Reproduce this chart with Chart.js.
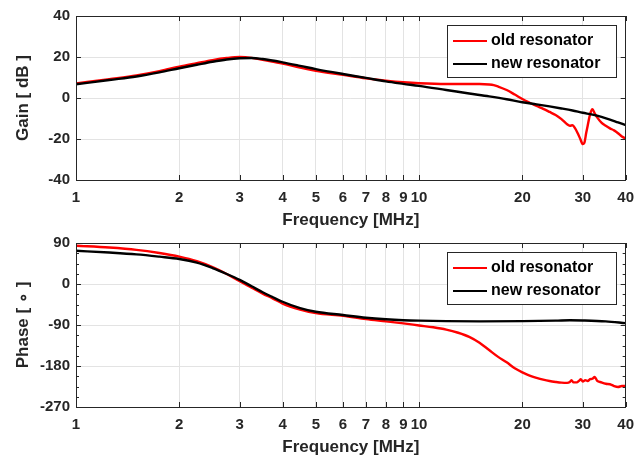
<!DOCTYPE html>
<html>
<head>
<meta charset="utf-8">
<script src="https://cdn.jsdelivr.net/npm/chart.js@4"></script>
<style>
  body { margin: 0; background: #fff; }
  #wrap { position: relative; width: 643px; height: 458px; }
  canvas { position: absolute; left: 0; }
</style>
</head>
<body>
<div id="wrap">
  <canvas id="gain" width="643" height="229" style="top:0"></canvas>
  <canvas id="phase" width="643" height="231" style="top:227px"></canvas>
</div>
<script>
// frequency ticks (MHz), log axis
const xTicks = [1, 2, 3, 4, 5, 6, 7, 8, 9, 10, 20, 30, 40];
const gainTicks = [-40, -20, 0, 20, 40];
const phaseTicks = [-270, -180, -90, 0, 90];

const seriesNames = ['old resonator', 'new resonator'];
const seriesColors = ['#ff0000', '#000000'];

// gain [dB]
const freqGainOld = [1, 1.25, 1.5, 1.75, 2, 2.25, 2.5, 2.75, 3, 3.25, 3.5, 4, 4.5, 5, 6, 7, 8, 9, 10, 12, 14, 15, 16, 16.5, 17, 18, 19, 20, 21, 22, 23, 24, 25, 26, 27, 27.5, 28, 28.5, 29, 29.5, 30, 30.3, 30.7, 31, 31.5, 32, 32.5, 33, 34, 35, 36, 37, 38, 39, 40];
const gainOld = [7.1, 9.2, 11.0, 13.1, 15.3, 17.0, 18.5, 19.5, 20.0, 19.6, 18.6, 16.8, 14.8, 13.3, 11.3, 9.6, 8.5, 7.7, 7.2, 6.8, 6.8, 6.8, 6.6, 6.3, 5.6, 3.9, 1.7, -0.5, -2.3, -3.9, -5.3, -6.8, -8.3, -10.3, -12.8, -13.5, -13.3, -14.8, -17.2, -20.0, -22.5, -22.0, -17.0, -13.5, -8.0, -5.5, -7.5, -9.3, -12.0, -13.5, -14.8, -15.8, -17.2, -18.8, -19.8];

const freqGainNew = [1, 1.25, 1.5, 1.75, 2, 2.25, 2.5, 2.75, 3, 3.25, 3.5, 4, 4.5, 5, 6, 7, 8, 9, 10, 12, 14, 16, 18, 20, 22, 24, 26, 28, 30, 32, 34, 36, 38, 40];
const gainNew = [6.7, 8.8, 10.5, 12.5, 14.5, 16.2, 17.7, 18.8, 19.4, 19.5, 19.0, 17.4, 15.7, 14.1, 11.7, 9.8, 8.1, 6.9, 5.9, 3.9, 2.2, 0.8, -0.6, -2.1, -3.1, -4.1, -5.1, -6.1, -7.2, -8.1, -9.2, -10.5, -11.9, -13.2];

// phase [deg]
const freqPhaseOld = [1, 1.25, 1.5, 1.75, 2, 2.25, 2.5, 2.75, 3, 3.25, 3.5, 3.75, 4, 4.5, 5, 6, 7, 8, 9, 10, 11, 12, 13, 14, 15, 16, 17, 18, 19, 20, 21, 22, 23, 24, 25, 26, 27, 27.5, 27.8, 28.2, 28.8, 29.3, 29.6, 30, 30.5, 31, 31.5, 32, 32.5, 33, 34, 35, 36, 37, 38, 39, 40];
const phaseOld = [84, 80, 75, 68, 60, 50, 37, 22, 6, -8, -21, -32, -43, -56, -64, -70, -77, -82, -86.5, -91, -95, -100, -107, -116, -129, -145, -160, -172, -185, -194, -201, -206, -210, -213, -215, -216.5, -217, -215, -211, -216, -216, -212, -209, -214, -211, -213, -209, -208, -204, -212, -216, -219, -220, -224, -226, -224, -224];

const freqPhaseNew = [1, 1.25, 1.5, 1.75, 2, 2.25, 2.5, 2.75, 3, 3.25, 3.5, 3.75, 4, 4.5, 5, 6, 7, 8, 9, 10, 12, 15, 20, 25, 27.5, 30, 35, 40];
const phaseNew = [73, 69, 65, 60, 55, 47, 35, 22, 9, -5, -18, -29, -39, -53, -61, -68, -74, -77.5, -79.5, -80.5, -81.5, -82, -81.5, -80.5, -79.5, -80, -82, -86];

const FONT = "'Liberation Sans', Arial, Helvetica, sans-serif";
const INK = '#262626';
const GRID = '#e3e3e3';

const pts = (xs, ys) => xs.map((x, i) => ({x: x, y: ys[i]}));

// MATLAB style box, inward ticks and legend
const matlabBox = {
  id: 'matlabBox',
  afterDatasetsDraw(chart, args, opts) {
    const {ctx, chartArea: a, scales: {x, y}} = chart;
    ctx.save();
    ctx.strokeStyle = INK;
    ctx.lineWidth = 1;
    ctx.beginPath();
    xTicks.forEach(v => {
      const px = Math.round(x.getPixelForValue(v)) + 0.5;
      ctx.moveTo(px, a.bottom); ctx.lineTo(px, a.bottom - 5);
      ctx.moveTo(px, a.top); ctx.lineTo(px, a.top + 5);
    });
    opts.yTicks.forEach(v => {
      const py = Math.round(y.getPixelForValue(v)) + 0.5;
      ctx.moveTo(a.left, py); ctx.lineTo(a.left + 5, py);
      ctx.moveTo(a.right, py); ctx.lineTo(a.right - 5, py);
    });
    (opts.minor || []).forEach(v => {
      const py = Math.round(y.getPixelForValue(v)) + 0.5;
      ctx.moveTo(a.left, py); ctx.lineTo(a.left + 3, py);
      ctx.moveTo(a.right, py); ctx.lineTo(a.right - 3, py);
    });
    ctx.stroke();
    ctx.strokeRect(Math.round(a.left) + 0.5, Math.round(a.top) + 0.5, Math.round(a.width) - 1, Math.round(a.height));

    // legend
    const bx = 447.5, by = 25.5, bw = 169, bh = 52;
    ctx.fillStyle = '#fff';
    ctx.fillRect(bx, by, bw, bh);
    ctx.strokeRect(bx, by, bw, bh);
    ctx.font = 'bold 16px ' + FONT;
    ctx.textBaseline = 'middle';
    seriesNames.forEach((name, i) => {
      const ly = 41 + i * 23;
      ctx.strokeStyle = seriesColors[i];
      ctx.lineWidth = 2;
      ctx.beginPath();
      ctx.moveTo(453, ly); ctx.lineTo(487, ly);
      ctx.stroke();
      ctx.fillStyle = '#000';
      ctx.fillText(name, 491, ly);
    });
    ctx.restore();
  }
};

// only the labelled ticks get a grid line
const gridFor = list => c => (c.tick && list.includes(c.tick.value)) ? GRID : 'rgba(0,0,0,0)';

const makeChart = (id, oldData, newData, yMin, yMax, yTicks, yTitle, minor, padBottom) => {
  return new Chart(document.getElementById(id), {
    type: 'line',
    data: {
      datasets: [
        {label: seriesNames[0], data: oldData, borderColor: seriesColors[0], order: 1},
        {label: seriesNames[1], data: newData, borderColor: seriesColors[1], order: 0},
      ]
    },
    options: {
      responsive: false,
      animation: false,
      events: [],
      layout: {padding: {left: 0, right: 17, top: 16, bottom: padBottom}},
      elements: {
        point: {radius: 0},
        line: {borderWidth: 2.4, cubicInterpolationMode: 'monotone'}
      },
      plugins: {
        legend: {display: false},
        tooltip: {enabled: false},
        matlabBox: {yTicks: yTicks, minor: minor}
      },
      scales: {
        x: {
          type: 'logarithmic',
          min: 1, max: 40,
          afterBuildTicks: s => { s.ticks = xTicks.map(v => ({value: v})); },
          afterFit: s => { s.height = 49; },
          border: {display: false},
          grid: {color: gridFor(xTicks), drawTicks: false},
          ticks: {
            autoSkip: false, maxRotation: 0, padding: 9, color: INK,
            font: {family: FONT, size: 15, weight: 'bold'},
            callback: v => xTicks.includes(v) ? String(v) : ''
          },
          title: {
            display: true, text: 'Frequency [MHz]', color: INK,
            font: {family: FONT, size: 17, weight: 'bold', lineHeight: 1},
            padding: {top: 0, bottom: 0}
          }
        },
        y: {
          min: yMin, max: yMax,
          afterBuildTicks: s => { s.ticks = yTicks.map(v => ({value: v})); },
          afterFit: s => { s.width = 76; },
          border: {display: false},
          grid: {color: gridFor(yTicks), drawTicks: false},
          ticks: {
            padding: 6, color: INK,
            font: {family: FONT, size: 15, weight: 'bold'},
            callback: v => String(v)
          },
          title: {
            display: true, text: yTitle, color: INK,
            font: {family: FONT, size: 17, weight: 'bold', lineHeight: 1},
            padding: {top: 15, bottom: 0}
          }
        }
      }
    },
    plugins: [matlabBox]
  });
};

const phaseMinor = [];
for (let v = -270; v <= 90; v += 22.5) if (v % 90 !== 0) phaseMinor.push(v);

makeChart('gain', pts(freqGainOld, gainOld), pts(freqGainNew, gainNew), -40, 40, gainTicks, 'Gain [ dB ]', [], 0);
makeChart('phase', pts(freqPhaseOld, phaseOld), pts(freqPhaseNew, phaseNew), -270, 90, phaseTicks, 'Phase [ \u2218 ]', phaseMinor, 2);
</script>
</body>
</html>
